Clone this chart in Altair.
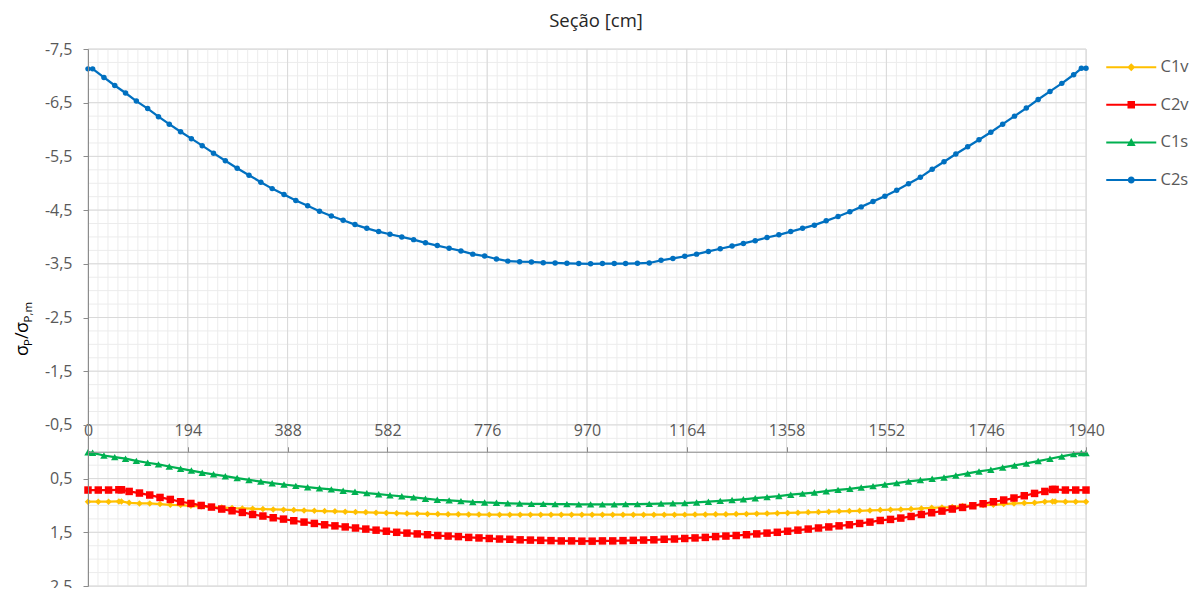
import altair as alt
import pandas as pd

FONT = "Open Sans"

series = ["C1v", "C2v", "C1s", "C2s"]
colors = ["#FFC000", "#FF0000", "#00B050", "#0070C0"]

# sections (cm) for C1s / C2s
x_s = [0, 9, 31, 52, 73, 94, 116, 137, 158, 180, 201, 222, 244, 267, 290, 313, 336, 358, 381, 404,
       427, 450, 473, 496, 519, 542, 565, 587, 610, 633, 656, 679, 702, 725, 748, 771, 794, 816, 839, 862,
       885, 908, 931, 954, 977, 1000, 1023, 1045, 1068, 1091, 1114, 1137, 1160, 1183, 1206, 1229, 1252, 1274, 1297, 1320,
       1343, 1366, 1389, 1412, 1435, 1458, 1481, 1503, 1526, 1549, 1572, 1595, 1618, 1641, 1664, 1687, 1710, 1732, 1755, 1778,
       1801, 1824, 1847, 1870, 1893, 1916, 1931, 1940]

c2s = [-7.13, -7.13, -6.97, -6.82, -6.68, -6.53, -6.39, -6.24, -6.10, -5.96, -5.83, -5.70, -5.56, -5.42, -5.28, -5.15, -5.02, -4.90, -4.79, -4.68,
       -4.58, -4.48, -4.39, -4.31, -4.23, -4.16, -4.10, -4.05, -4.00, -3.95, -3.89, -3.84, -3.79, -3.74, -3.68, -3.645, -3.59, -3.55, -3.54, -3.535,
       -3.52, -3.515, -3.51, -3.505, -3.50, -3.505, -3.505, -3.505, -3.51, -3.515, -3.565, -3.60, -3.64, -3.68, -3.73, -3.78, -3.83, -3.88, -3.93, -3.99,
       -4.04, -4.10, -4.16, -4.22, -4.30, -4.38, -4.47, -4.56, -4.66, -4.76, -4.87, -4.99, -5.11, -5.26, -5.40, -5.545, -5.68, -5.81, -5.95, -6.10,
       -6.25, -6.40, -6.56, -6.71, -6.86, -7.02, -7.14, -7.14]

c1s = [0.01, 0.02, 0.07, 0.10, 0.13, 0.17, 0.205, 0.235, 0.275, 0.315, 0.35, 0.39, 0.42, 0.455, 0.49, 0.525, 0.555, 0.585, 0.61, 0.635,
       0.66, 0.68, 0.70, 0.725, 0.745, 0.77, 0.79, 0.81, 0.83, 0.85, 0.875, 0.895, 0.905, 0.92, 0.935, 0.945, 0.95, 0.96, 0.965, 0.97,
       0.97, 0.975, 0.975, 0.98, 0.98, 0.98, 0.98, 0.975, 0.975, 0.97, 0.965, 0.96, 0.955, 0.945, 0.93, 0.915, 0.90, 0.885, 0.865, 0.845,
       0.825, 0.80, 0.78, 0.76, 0.735, 0.71, 0.69, 0.665, 0.64, 0.61, 0.583, 0.553, 0.527, 0.503, 0.479, 0.442, 0.404, 0.367, 0.335, 0.292,
       0.255, 0.218, 0.173, 0.13, 0.087, 0.043, 0.024, 0.024]

# sections (cm) for C1v / C2v
x_v = [0, 20, 40, 60, 65, 80, 100, 120, 140, 160, 180, 200, 220, 240, 260, 280, 300, 320, 340, 360,
       380, 400, 420, 440, 460, 480, 500, 520, 540, 560, 580, 600, 620, 640, 660, 680, 700, 720, 740, 760,
       780, 800, 820, 840, 860, 880, 900, 920, 940, 960, 980, 1000, 1020, 1040, 1060, 1080, 1100, 1120, 1140, 1160,
       1180, 1200, 1220, 1240, 1260, 1280, 1300, 1320, 1340, 1360, 1380, 1400, 1420, 1440, 1460, 1480, 1500, 1520, 1540, 1560,
       1580, 1600, 1620, 1640, 1660, 1680, 1700, 1720, 1740, 1760, 1780, 1800, 1820, 1840, 1860, 1875, 1880, 1900, 1920, 1940]

c2v = [0.713, 0.713, 0.713, 0.708, 0.708, 0.739, 0.769, 0.806, 0.851, 0.888, 0.931, 0.963, 1.0, 1.03, 1.067, 1.099, 1.13, 1.168, 1.197, 1.229,
       1.254, 1.285, 1.31, 1.335, 1.36, 1.38, 1.40, 1.42, 1.44, 1.46, 1.48, 1.50, 1.515, 1.53, 1.545, 1.56, 1.57, 1.58, 1.595, 1.605,
       1.615, 1.625, 1.63, 1.64, 1.645, 1.65, 1.655, 1.66, 1.66, 1.665, 1.665, 1.66, 1.66, 1.655, 1.65, 1.645, 1.64, 1.63, 1.625, 1.615,
       1.605, 1.595, 1.58, 1.57, 1.56, 1.545, 1.53, 1.515, 1.50, 1.48, 1.46, 1.44, 1.42, 1.40, 1.38, 1.36, 1.335, 1.31, 1.28, 1.26,
       1.235, 1.205, 1.168, 1.136, 1.105, 1.067, 1.037, 1.006, 0.968, 0.931, 0.899, 0.862, 0.819, 0.776, 0.739, 0.702, 0.702, 0.713, 0.713, 0.713]

c1v = [0.931, 0.931, 0.931, 0.925, 0.925, 0.95, 0.962, 0.962, 0.974, 0.987, 0.993, 1.006, 1.018, 1.03, 1.037, 1.049, 1.056, 1.061, 1.067, 1.074,
       1.08, 1.086, 1.093, 1.099, 1.105, 1.11, 1.116, 1.122, 1.128, 1.134, 1.14, 1.145, 1.15, 1.154, 1.158, 1.161, 1.164, 1.166, 1.168, 1.17,
       1.171, 1.172, 1.173, 1.173, 1.173, 1.173, 1.173, 1.173, 1.173, 1.173, 1.173, 1.173, 1.173, 1.173, 1.173, 1.173, 1.173, 1.173, 1.172, 1.171,
       1.17, 1.168, 1.166, 1.164, 1.161, 1.158, 1.154, 1.15, 1.145, 1.14, 1.134, 1.128, 1.122, 1.116, 1.11, 1.105, 1.099, 1.093, 1.086, 1.08,
       1.074, 1.067, 1.056, 1.043, 1.037, 1.03, 1.011, 1.0, 0.993, 0.987, 0.974, 0.962, 0.955, 0.95, 0.931, 0.925, 0.925, 0.931, 0.931, 0.931]

x_ticks = [0, 194, 388, 582, 776, 970, 1164, 1358, 1552, 1746, 1940]
y_ticks = [-7.5, -6.5, -5.5, -4.5, -3.5, -2.5, -1.5, -0.5, 0.5, 1.5, 2.5]

rows = []
for name, xs, vs in [("C1v", x_v, c1v), ("C2v", x_v, c2v), ("C1s", x_s, c1s), ("C2s", x_s, c2s)]:
    for a, b in zip(xs, vs):
        rows.append({"serie": name, "x": a, "v": b})
df = pd.DataFrame(rows)

W, H = 998, 537
Y0 = H * 7.5 / 10.0  # pixel row of value 0

xscale = alt.Scale(domain=[0, 1940], nice=False, zero=False)
yscale = alt.Scale(domain=[-7.5, 2.5], nice=False, zero=False, reverse=True)

minor_x = [round(19.4 * i, 2) for i in range(101)]
minor_y = [round(-7.5 + 0.25 * i, 2) for i in range(41)]

AXC = "#8c8c8c"
LBL = "#595959"

x_axis = alt.Axis(orient="top", offset=-Y0, values=x_ticks, grid=False, domainColor=AXC,
                  tickColor=AXC, tickSize=5, labelFont=FONT, labelFontSize=16, labelColor=LBL,
                  labelPadding=8, labelFlush=False, labelOverlap=False, labelBound=False,
                  labelExpr="format(datum.value, 'd')", title=None, zindex=1)
y_axis = alt.Axis(values=y_ticks, grid=False, domainColor=AXC, tickColor=AXC, tickSize=5,
                  labelFont=FONT, labelFontSize=16, labelColor=LBL, labelPadding=11,
                  labelOverlap=False, labelFlush=False,
                  labelExpr="(datum.value < 0 ? '-' : '') + replace(format(abs(datum.value), '.1f'), '.', ',')",
                  title=None, zindex=1)


def X(field):
    return alt.X(field, scale=xscale, axis=x_axis, title=None)


def Y(field):
    return alt.Y(field, scale=yscale, axis=y_axis, title=None)


gx_minor = alt.Chart(pd.DataFrame({"gx": minor_x})).mark_rule(color="#ececec", strokeWidth=1).encode(x=X("gx:Q"))
gy_minor = alt.Chart(pd.DataFrame({"gy": minor_y})).mark_rule(color="#ececec", strokeWidth=1).encode(y=Y("gy:Q"))
gx_major = alt.Chart(pd.DataFrame({"gx": x_ticks})).mark_rule(color="#d9d9d9", strokeWidth=1).encode(x=X("gx:Q"))
gy_major = alt.Chart(pd.DataFrame({"gy": y_ticks})).mark_rule(color="#d9d9d9", strokeWidth=1).encode(y=Y("gy:Q"))

shapes = {"C1v": ("diamond", 42), "C2v": ("square", 56), "C1s": ("triangle-up", 55), "C2s": ("circle", 30)}

layers = [gx_minor, gy_minor, gx_major, gy_major]
for name, col in zip(series, colors):
    base = alt.Chart(df).transform_filter(alt.datum.serie == name)
    ln = base.mark_line(color=col, strokeWidth=2.25).encode(x=X("x:Q"), y=Y("v:Q"), order="x:Q")
    sh, sz = shapes[name]
    pt = base.mark_point(shape=sh, size=sz, filled=True, color=col, opacity=1).encode(x=X("x:Q"), y=Y("v:Q"))
    layers += [ln, pt]

# legend (line + marker symbols), drawn from an empty layer with explicit domains
line_part = "M-3.125,-0.125H3.125V0.125H-3.125Z"
legend_paths = [
    line_part + "M0,-0.5L0.5,0L0,0.5L-0.5,0Z",
    line_part + "M-0.47,-0.47H0.47V0.47H-0.47Z",
    line_part + "M0,-0.55L0.55,0.45H-0.55Z",
    line_part + "M-0.44,0A0.44,0.44,0,1,1,0.44,0A0.44,0.44,0,1,1,-0.44,0Z",
]
leg = alt.Legend(title=None, orient="none", legendX=1035, legendY=10, symbolSize=256,
                 labelFont=FONT, labelFontSize=16.5, labelColor=LBL, labelOffset=21,
                 rowPadding=20.6, padding=0, symbolStrokeWidth=0, symbolOpacity=1)
legend_layer = alt.Chart(df).transform_filter("datum.v > 1000").mark_point(filled=True, opacity=1).encode(
    x=X("x:Q"), y=Y("v:Q"),
    color=alt.Color("serie:N", scale=alt.Scale(domain=series, range=colors), legend=leg),
    shape=alt.Shape("serie:N", scale=alt.Scale(domain=series, range=legend_paths), legend=leg),
)
layers.append(legend_layer)


# y title with subscripts
def ytext(txt, px, py, size):
    return alt.Chart(pd.DataFrame({"t": [txt]})).mark_text(
        angle=270, align="left", baseline="alphabetic", font=FONT, fontSize=size, color="#000000"
    ).encode(text="t:N", x=alt.value(px - 88), y=alt.value(py - 49))


layers += [
    ytext("σ", 28, 356, 18),
    ytext("P", 32, 346, 11.5),
    ytext("/", 28, 339, 18),
    ytext("σ", 28, 333, 18),
    ytext("P,m", 32, 322.5, 11.5),
]

chart = alt.layer(*layers).properties(
    width=W, height=H,
    title=alt.Title("Seção [cm]", font=FONT, fontSize=18.5, fontWeight="normal", color="#262626",
                    anchor="middle", dx=9, offset=11),
    autosize=alt.AutoSizeParams(type="none"),
    padding={"left": 80, "top": 41, "right": 106, "bottom": 2},
).configure_view(stroke=None).configure(background="white")

chart.save("out.html", embed_options={"renderer": "svg", "actions": False})
